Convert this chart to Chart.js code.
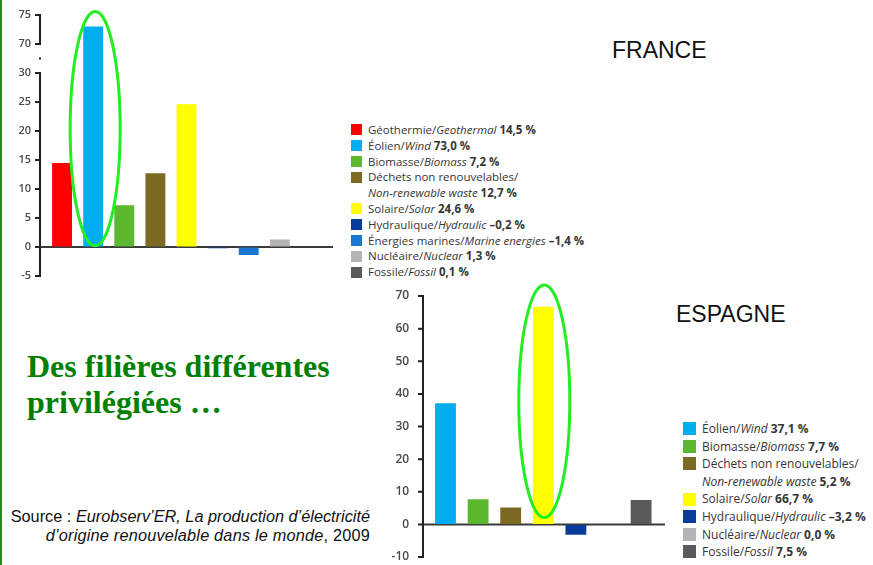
<!DOCTYPE html>
<html>
<head>
<meta charset="utf-8">
<script src="https://cdn.jsdelivr.net/npm/chart.js@4/dist/chart.umd.min.js"></script>
<style>
body{margin:0;width:873px;height:565px;position:relative;background:#fff;overflow:hidden;font-family:Arial,"Liberation Sans",sans-serif}
#frame{position:absolute;left:0;top:0;width:2px;height:565px;background:#1e8c1e}
canvas{position:absolute}
.leg{position:absolute;font-family:"Open Sans",sans-serif;color:#363636;white-space:nowrap}
.leg .row{position:relative}
.leg .sw{position:absolute;left:0}
.country{position:absolute;font-size:23px;line-height:26px;color:#111}
#title{position:absolute;left:27px;top:348px;font-family:"Liberation Serif","Times New Roman",serif;font-weight:bold;font-size:32px;line-height:36px;color:#008000}
#source{position:absolute;left:0;top:507px;width:370px;text-align:right;font-size:16.3px;line-height:19px;color:#111}
</style>
</head>
<body>
<div id="frame"></div>
<canvas id="france" width="340" height="290" style="left:0;top:0"></canvas>
<canvas id="espagne" width="290" height="285" style="left:380px;top:280px"></canvas>
<div id="legFr" class="leg" style="left:351px;top:122px"></div>
<div id="legEs" class="leg" style="left:683px;top:420px"></div>
<div class="country" style="left:612px;top:37px">FRANCE</div>
<div class="country" style="left:676px;top:301px">ESPAGNE</div>
<div id="title">Des filières différentes<br>privilégiées …</div>
<div id="source">Source : <i>Eurobserv’ER, La production d’électricité</i><br><span style="letter-spacing:0.2px"><i>d’origine renouvelable dans le monde</i>, 2009</span></div>
<script>
// France
let frNames=['Géothermie','Éolien','Biomasse','Déchets non renouvelables','Solaire','Hydraulique','Énergies marines','Nucléaire','Fossile'];
let frNamesEn=['Geothermal','Wind','Biomass','Non-renewable waste','Solar','Hydraulic','Marine energies','Nuclear','Fossil'];
let frValues=[14.5,73.0,7.2,12.7,24.6,-0.2,-1.4,1.3,0.1];
let frColors=['#ff0000','#00aeef','#5cb82e','#7d6a22','#ffff00','#0a3c9c','#1a78d2','#b4b4b4','#5a5a5c'];
// Espagne
let esNames=['Éolien','Biomasse','Déchets non renouvelables','Solaire','Hydraulique','Nucléaire','Fossile'];
let esNamesEn=['Wind','Biomass','Non-renewable waste','Solar','Hydraulic','Nuclear','Fossil'];
let esValues=[37.1,7.7,5.2,66.7,-3.2,0.0,7.5];
let esColors=['#00aeef','#5cb82e','#7d6a22','#ffff00','#0a3c9c','#b4b4b4','#5a5a5c'];

// france axis is broken between 30 and 70
let breakLow=30, breakHigh=70;
function squash(v){ return v>breakLow+5 ? v-(breakHigh-breakLow-5) : v; }
function unsquash(t){ return t>breakLow+2.5 ? t+(breakHigh-breakLow-5) : t; }

function fmt(v){
    let s=Math.abs(v).toFixed(1).replace('.',',')+' %';
    return v<0 ? '–'+s : s;
}
function buildLegend(id,names,en,vals,cols,lh,fs,sw,textLeft){
    let el=document.getElementById(id);
    el.style.fontSize=fs+'px';
    let html='';
    let rowStyle='height:'+lh+'px;line-height:'+lh+'px;padding-left:'+textLeft+'px';
    for(let i=0;i<names.length;i++){
        let box='<span class="sw" style="top:'+((lh-sw)/2)+'px;width:'+sw+'px;height:'+sw+'px;background:'+cols[i]+'"></span>';
        if(names[i].length>20){
            html+='<div class="row" style="'+rowStyle+'">'+box+names[i]+'/</div>';
            html+='<div class="row" style="'+rowStyle+'"><i>'+en[i]+'</i> <b>'+fmt(vals[i])+'</b></div>';
        }else{
            html+='<div class="row" style="'+rowStyle+'">'+box+names[i]+'/<i>'+en[i]+'</i> <b>'+fmt(vals[i])+'</b></div>';
        }
    }
    el.innerHTML=html;
}
buildLegend('legFr',frNames,frNamesEn,frValues,frColors,15.8,11.5,11,17);
buildLegend('legEs',esNames,esNamesEn,esValues,esColors,17.6,12,13,19);

// green ellipse around one bar
const ring={
    id:'ring',
    afterDatasetsDraw(chart,args,o){
        let bar=chart.getDatasetMeta(0).data[o.index];
        let y=chart.scales.y;
        let top=y.getPixelForValue(o.top), bottom=y.getPixelForValue(o.bottom);
        let ctx=chart.ctx;
        ctx.save();
        ctx.strokeStyle='#22ee22';
        ctx.lineWidth=3;
        ctx.beginPath();
        ctx.ellipse(bar.x+o.dx,(top+bottom)/2,o.rx,(bottom-top)/2,0,0,Math.PI*2);
        ctx.stroke();
        ctx.restore();
    }
};
// axis line a bit left of the first bar, tick marks, zero line, optional break
const axisLine={
    id:'axisLine',
    beforeDatasetsDraw(chart,args,o){
        let y=chart.scales.y, ctx=chart.ctx;
        let x0=chart.chartArea.left-o.gap;
        ctx.save();
        ctx.strokeStyle='#3a3a3a';
        ctx.lineWidth=2;
        ctx.beginPath();
        ctx.moveTo(x0,y.getPixelForValue(0));
        ctx.lineTo(chart.chartArea.right+o.ext,y.getPixelForValue(0));
        ctx.stroke();
        ctx.restore();
    },
    afterDraw(chart,args,o){
        let y=chart.scales.y, ctx=chart.ctx;
        let x0=chart.chartArea.left-o.gap;
        ctx.save();
        ctx.strokeStyle='#222';
        ctx.fillStyle='#222';
        ctx.lineWidth=2;
        ctx.beginPath();
        if(o.breakAt!=null){
            ctx.moveTo(x0,y.getPixelForValue(y.max)-1);
            ctx.lineTo(x0,y.getPixelForValue(o.breakAt+2.5)+1);
            ctx.moveTo(x0,y.getPixelForValue(o.breakAt-2.5)-1);
            ctx.lineTo(x0,y.getPixelForValue(y.min)+1);
            ctx.fillRect(x0-1,y.getPixelForValue(o.breakAt)-1,2,2);
        }else{
            ctx.moveTo(x0,y.getPixelForValue(y.max)-1);
            ctx.lineTo(x0,y.getPixelForValue(y.min)+1);
        }
        y.ticks.forEach(t=>{
            let py=y.getPixelForValue(t.value);
            ctx.moveTo(x0-5,py);
            ctx.lineTo(x0,py);
        });
        ctx.stroke();
        ctx.restore();
    }
};

// invisible tick marks only push the labels left
function hiddenGrid(len){
    return {display:true,drawOnChartArea:false,drawTicks:true,tickLength:len,color:'rgba(0,0,0,0)',tickColor:'rgba(0,0,0,0)'};
}

new Chart('france',{
    type:'bar',
    data:{
        labels:frNames,
        datasets:[{
            data:frValues.map(squash),
            backgroundColor:frColors,
            categoryPercentage:1,
            barPercentage:0.64
        }]
    },
    options:{
        responsive:false,
        animation:false,
        layout:{padding:{top:15,bottom:14,right:13.5,left:0}},
        plugins:{
            legend:{display:false},
            tooltip:{enabled:false},
            ring:{index:1,top:40.6,bottom:0.2,rx:25,dx:2},
            axisLine:{gap:6.5,ext:6.5,breakAt:32.5}
        },
        scales:{
            x:{display:false},
            y:{
                min:-5,max:40,
                afterFit:s=>{s.width=46.5;},
                border:{display:false},
                grid:hiddenGrid(15.5),
                ticks:{stepSize:5,padding:0,color:'#4a4a4a',font:{family:'Open Sans',size:11,weight:'600'},
                    callback:v=>String(unsquash(v))}
            }
        }
    },
    plugins:[axisLine,ring]
});

new Chart('espagne',{
    type:'bar',
    data:{
        labels:esNames,
        datasets:[{
            data:esValues,
            backgroundColor:esColors,
            categoryPercentage:1,
            barPercentage:0.64
        }]
    },
    options:{
        responsive:false,
        animation:false,
        layout:{padding:{top:16,bottom:8,right:12.6,left:0}},
        plugins:{
            legend:{display:false},
            tooltip:{enabled:false},
            ring:{index:3,top:73.4,bottom:2.1,rx:25.5,dx:1},
            axisLine:{gap:6.2,ext:7.6,breakAt:null}
        },
        scales:{
            x:{display:false},
            y:{
                min:-10,max:70,
                afterFit:s=>{s.width=49.2;},
                border:{display:false},
                grid:hiddenGrid(20),
                ticks:{stepSize:10,padding:0,color:'#4a4a4a',font:{family:'Open Sans',size:12,weight:'600'}}
            }
        }
    },
    plugins:[axisLine,ring]
});
</script>
</body>
</html>
